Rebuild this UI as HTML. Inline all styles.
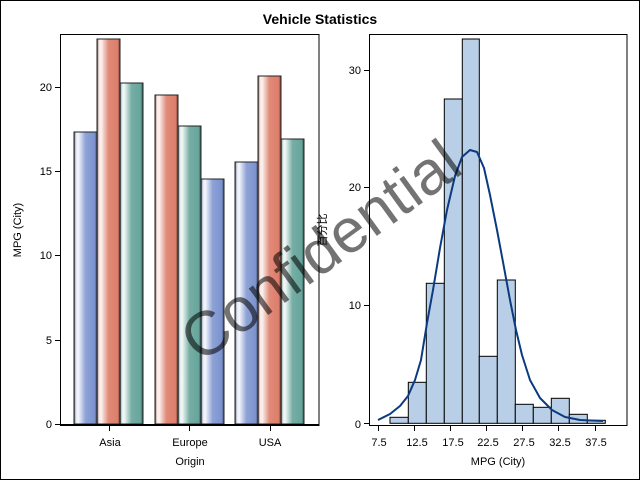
<!DOCTYPE html>
<html><head><meta charset="utf-8"><style>
body{margin:0;background:#fff}
svg{display:block;font-family:"Liberation Sans","DejaVu Sans",sans-serif}
</style></head><body>
<svg width="640" height="480" viewBox="0 0 640 480" xmlns="http://www.w3.org/2000/svg">
<defs>
<linearGradient id="gb" x1="0" x2="1" y1="0" y2="0">
<stop offset="0" stop-color="#2a3550"/><stop offset="0.08" stop-color="#dfe5f5"/><stop offset="0.18" stop-color="#f7f8fc"/><stop offset="0.5" stop-color="#8ea2d6"/><stop offset="0.9" stop-color="#7b93cf"/><stop offset="1" stop-color="#3e4a6a"/></linearGradient>
<linearGradient id="gr" x1="0" x2="1" y1="0" y2="0">
<stop offset="0" stop-color="#4a2a25"/><stop offset="0.08" stop-color="#f8e6e2"/><stop offset="0.18" stop-color="#fbf2f0"/><stop offset="0.5" stop-color="#e08a78"/><stop offset="0.9" stop-color="#dd7e6b"/><stop offset="1" stop-color="#6a3a30"/></linearGradient>
<linearGradient id="gt" x1="0" x2="1" y1="0" y2="0">
<stop offset="0" stop-color="#203a36"/><stop offset="0.08" stop-color="#e2efed"/><stop offset="0.18" stop-color="#f2f8f7"/><stop offset="0.5" stop-color="#76ada4"/><stop offset="0.9" stop-color="#66a69c"/><stop offset="1" stop-color="#2e4f4a"/></linearGradient>
</defs>
<rect x="0.5" y="0.5" width="639" height="479" fill="#fff" stroke="#000"/>
<text x="320" y="24" text-anchor="middle" font-size="14" font-weight="bold">Vehicle Statistics</text>

<g stroke="#222" stroke-width="1">
<rect x="74" y="132" width="23" height="292" fill="url(#gb)"/>
<rect x="97" y="39" width="23" height="385" fill="url(#gr)"/>
<rect x="120" y="83" width="23" height="341" fill="url(#gt)"/>
<rect x="155" y="95" width="23" height="329" fill="url(#gr)"/>
<rect x="178" y="126" width="23" height="298" fill="url(#gt)"/>
<rect x="201" y="179" width="23" height="245" fill="url(#gb)"/>
<rect x="235" y="162" width="23" height="262" fill="url(#gb)"/>
<rect x="258" y="76" width="23" height="348" fill="url(#gr)"/>
<rect x="281" y="139" width="23" height="285" fill="url(#gt)"/>
</g>
<rect x="60.5" y="34.5" width="258.5" height="391" fill="none" stroke="#000"/>
<line x1="60" y1="424.5" x2="319" y2="424.5" stroke="#000"/>
<g stroke="#000">
<line x1="55" x2="60" y1="424.5" y2="424.5"/><line x1="55" x2="60" y1="340.5" y2="340.5"/><line x1="55" x2="60" y1="255.5" y2="255.5"/><line x1="55" x2="60" y1="171.5" y2="171.5"/><line x1="55" x2="60" y1="87.5" y2="87.5"/>
<line x1="109.5" x2="109.5" y1="426" y2="431"/><line x1="189.5" x2="189.5" y1="426" y2="431"/><line x1="270.5" x2="270.5" y1="426" y2="431"/>
</g>
<g font-size="11" text-anchor="end">
<text x="52" y="428">0</text><text x="52" y="344">5</text><text x="52" y="259">10</text><text x="52" y="175">15</text><text x="52" y="91">20</text>
</g>
<g font-size="11" text-anchor="middle">
<text x="110" y="446">Asia</text><text x="190" y="446">Europe</text><text x="270" y="446">USA</text>
<text x="190" y="465">Origin</text>
<text transform="translate(21,230) rotate(-90)" x="0" y="0">MPG (City)</text>
</g>

<g fill="#b9cfe7" stroke="#000">
<rect x="390" y="417.3" width="18.3" height="6"/>
<rect x="408.3" y="382.3" width="18" height="41"/>
<rect x="426.3" y="283.3" width="18" height="140"/>
<rect x="444.3" y="99" width="18" height="324.3"/>
<rect x="462.3" y="39" width="17" height="384.3"/>
<rect x="479.3" y="356.3" width="18" height="67"/>
<rect x="497.3" y="280" width="18" height="143.3"/>
<rect x="515.3" y="404.3" width="18" height="19"/>
<rect x="533.3" y="407.3" width="18" height="16"/>
<rect x="551.3" y="398.3" width="18" height="25"/>
<rect x="569.3" y="414.3" width="18" height="9"/>
<rect x="587.3" y="420.3" width="18" height="3"/>
</g>
<path d="M378,420 L390,414 L400,406 L408,396 L415,380 L421,360 L427,323 L433,290 L440,248 L447,210 L455,176 L462,157 L470,150 L477,152 L484,168 L490,195 L497,230 L503,262 L510,300 L516,330 L522,355 L530,380 L540,398 L552,410 L565,417 L580,420 L603,421" fill="none" stroke="#0b3a80" stroke-width="2" stroke-linejoin="round"/>
<rect x="369.5" y="34.5" width="257.5" height="391" fill="none" stroke="#000"/>
<g stroke="#000">
<line x1="364" x2="369" y1="423.5" y2="423.5"/><line x1="364" x2="369" y1="305.5" y2="305.5"/><line x1="364" x2="369" y1="187.5" y2="187.5"/><line x1="364" x2="369" y1="70.5" y2="70.5"/>
<line x1="378.5" x2="378.5" y1="426" y2="431"/><line x1="414.5" x2="414.5" y1="426" y2="431"/><line x1="450.5" x2="450.5" y1="426" y2="431"/><line x1="486.5" x2="486.5" y1="426" y2="431"/><line x1="522.5" x2="522.5" y1="426" y2="431"/><line x1="558.5" x2="558.5" y1="426" y2="431"/><line x1="595.5" x2="595.5" y1="426" y2="431"/>
</g>
<g font-size="11" text-anchor="end">
<text x="361" y="428">0</text><text x="361" y="309">10</text><text x="361" y="191">20</text><text x="361" y="74">30</text>
</g>
<g font-size="11" text-anchor="middle">
<text x="379" y="446">7.5</text><text x="417" y="446">12.5</text><text x="453" y="446">17.5</text><text x="488" y="446">22.5</text><text x="524" y="446">27.5</text><text x="560" y="446">32.5</text><text x="596" y="446">37.5</text>
<text x="498" y="465">MPG (City)</text>
<text transform="translate(326,230) rotate(-90)" font-family="'Liberation Sans','Noto Sans CJK SC',sans-serif">百分比</text>
</g>

<text x="320" y="272" text-anchor="middle" font-size="62" fill="#000" fill-opacity="0.55" transform="rotate(-36 320 250)">Confidential</text>
</svg>
</body></html>
